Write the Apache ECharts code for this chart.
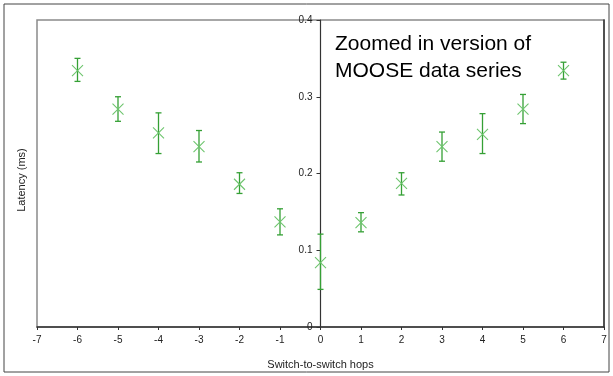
<!DOCTYPE html>
<html>
<head>
<meta charset="utf-8">
<script src="https://cdn.jsdelivr.net/npm/echarts@6/dist/echarts.min.js"></script>
<style>html,body{margin:0;padding:0;background:#fff}#c{width:613px;height:376px}</style>
</head>
<body>
<div id="c"></div>
<script>
const hops    = [-6, -5, -4, -3, -2, -1, 0, 1, 2, 3, 4, 5, 6];
const latency = [0.334, 0.284, 0.253, 0.235, 0.186, 0.137, 0.084, 0.136, 0.187, 0.235, 0.251, 0.284, 0.334];
const errLow  = [0.320, 0.268, 0.226, 0.215, 0.174, 0.120, 0.049, 0.124, 0.172, 0.216, 0.226, 0.265, 0.323];
const errHigh = [0.350, 0.300, 0.279, 0.256, 0.201, 0.154, 0.121, 0.149, 0.201, 0.254, 0.278, 0.303, 0.345];
const xTicks = [-7, 7, 1];
const yTicks = [0, 0.4, 0.1];

const data = hops.map((h, i) => [h, latency[i], errLow[i], errHigh[i]]);
const chart = echarts.init(document.getElementById('c'), null, {renderer: 'canvas'});
const FONT = 'Liberation Sans, Arial, sans-serif';
const GRID = {left: 37, top: 20, right: 9, bottom: 49};
const gridW = 613 - GRID.left - GRID.right;
const yAxisOffset = -gridW * (0 - xTicks[0]) / (xTicks[1] - xTicks[0]);
chart.setOption({
  animation: false,
  grid: Object.assign({show: true, borderColor: '#8a8a8a', borderWidth: 1.5, backgroundColor: 'transparent'}, GRID),
  xAxis: [{
    type: 'value', min: xTicks[0], max: xTicks[1], interval: xTicks[2],
    name: 'Switch-to-switch hops', nameLocation: 'middle', nameGap: 32,
    nameTextStyle: {fontFamily: FONT, fontSize: 11, color: '#222'},
    axisLine: {onZero: false, lineStyle: {color: '#333', width: 1.5}},
    axisTick: {show: true, length: 3, lineStyle: {color: '#333'}},
    axisLabel: {fontFamily: FONT, fontSize: 10, color: '#222', margin: 8},
    splitLine: {show: false}
  }],
  yAxis: [{
    type: 'value', min: yTicks[0], max: yTicks[1], interval: yTicks[2],
    position: 'left', offset: yAxisOffset,
    axisLine: {show: true, onZero: false, lineStyle: {color: '#333', width: 1.2}},
    axisTick: {show: true, length: 4, lineStyle: {color: '#333'}},
    axisLabel: {fontFamily: FONT, fontSize: 10, color: '#222', margin: 8, formatter: v => String(+v.toFixed(1))},
    splitLine: {show: false}
  }, {
    type: 'value', min: yTicks[0], max: yTicks[1], interval: yTicks[2], position: 'right',
    axisLine: {show: true, onZero: false, lineStyle: {color: '#333', width: 1.5}},
    axisTick: {show: false}, axisLabel: {show: false}, splitLine: {show: false}
  }],
  series: [{
    type: 'custom',
    data: data,
    encode: {x: 0, y: 1},
    renderItem: function (params, api) {
      const x = api.value(0);
      const c = api.coord([x, api.value(1)]);
      const lo = api.coord([x, api.value(2)]);
      const hi = api.coord([x, api.value(3)]);
      const cap = 3, m = 5.5;
      const bar = {stroke: '#35a035', lineWidth: 1.3};
      const mk = {stroke: '#6cc46c', lineWidth: 1.1};
      return {
        type: 'group',
        children: [
          {type: 'line', shape: {x1: hi[0], y1: hi[1], x2: lo[0], y2: lo[1]}, style: bar},
          {type: 'line', shape: {x1: hi[0] - cap, y1: hi[1], x2: hi[0] + cap, y2: hi[1]}, style: bar},
          {type: 'line', shape: {x1: lo[0] - cap, y1: lo[1], x2: lo[0] + cap, y2: lo[1]}, style: bar},
          {type: 'line', shape: {x1: c[0] - m, y1: c[1] - m, x2: c[0] + m, y2: c[1] + m}, style: mk},
          {type: 'line', shape: {x1: c[0] - m, y1: c[1] + m, x2: c[0] + m, y2: c[1] - m}, style: mk}
        ]
      };
    }
  }],
  graphic: [
    {type: 'rect', shape: {x: 4, y: 4, width: 605, height: 368}, style: {fill: 'none', stroke: '#444', lineWidth: 1}, silent: true},
    {type: 'text', x: 22, y: 180, rotation: Math.PI / 2,
     style: {text: 'Latency (ms)', font: '11px ' + FONT, fill: '#222', textAlign: 'center', textVerticalAlign: 'middle'}},
    {type: 'text', left: 335, top: 31,
     style: {text: 'Zoomed in version of\nMOOSE data series', font: '21px ' + FONT, fill: '#000', lineHeight: 27}}
  ]
});
</script>
</body>
</html>
